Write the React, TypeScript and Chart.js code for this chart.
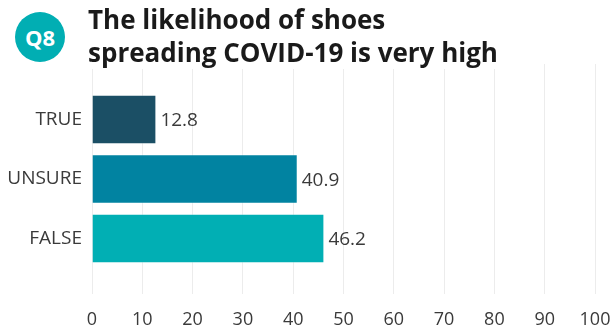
import React, { useEffect, useRef } from "react";
import { Chart, registerables } from "chart.js";

Chart.register(...registerables);

// Survey answers to Q8
const categories = ["TRUE", "UNSURE", "FALSE"];
const percentages = [12.8, 40.9, 46.2];
const barColors = ["#1b4f65", "#0183a1", "#01afb4"];
const xTicks = [0, 10, 20, 30, 40, 50, 60, 70, 80, 90, 100];

const FONT = "'Open Sans', 'Noto Sans', sans-serif";
const TEXT = "#3a3a3a";

// Writes each bar's value just past its end
const valueLabels = {
  id: "valueLabels",
  afterDatasetsDraw(chart: any) {
    const { ctx } = chart;
    const meta = chart.getDatasetMeta(0);
    ctx.save();
    ctx.font = `19px ${FONT}`;
    ctx.fillStyle = TEXT;
    ctx.textAlign = "left";
    ctx.textBaseline = "middle";
    meta.data.forEach((bar: any, i: number) => {
      ctx.fillText(String(percentages[i]), bar.x + 4, bar.y + 1.5);
    });
    ctx.restore();
  },
};

export default function App() {
  const canvasRef = useRef<HTMLCanvasElement | null>(null);

  useEffect(() => {
    document.body.style.margin = "0";
    const canvas = canvasRef.current;
    if (!canvas) return;
    const chart = new Chart(canvas, {
      type: "bar",
      data: {
        datasets: [
          {
            data: percentages.map((v, i) => ({ x: v, y: i })),
            backgroundColor: barColors,
            borderColor: "rgba(255,255,255,0.35)",
            borderWidth: 1,
            categoryPercentage: 1,
            barPercentage: 0.83,
          },
        ],
      },
      options: {
        indexAxis: "y",
        animation: false,
        responsive: false,
        maintainAspectRatio: false,
        layout: { padding: { top: 64, right: 17, left: 0, bottom: 0 } },
        plugins: {
          legend: { display: false },
          tooltip: { enabled: false },
          title: { display: false },
        },
        scales: {
          x: {
            type: "linear",
            min: 0,
            max: 100,
            afterBuildTicks: (axis: any) => {
              axis.ticks = xTicks.map((v) => ({ value: v }));
            },
            afterFit: (axis: any) => {
              axis.height = 39;
              axis.paddingLeft = 0;
              axis.paddingRight = 0;
            },
            grid: { color: "#ececec", lineWidth: 1, drawTicks: false },
            border: { display: false },
            ticks: {
              padding: 15,
              color: TEXT,
              font: { family: FONT, size: 18 },
              maxRotation: 0,
            },
          },
          y: {
            type: "linear",
            reverse: true,
            offset: false,
            grace: 0,
            min: -0.93,
            max: 2.93,
            afterBuildTicks: (axis: any) => {
              axis.ticks = categories.map((_, i) => ({ value: i }));
            },
            afterFit: (axis: any) => {
              axis.width = 92;
              axis.paddingTop = 0;
              axis.paddingBottom = 0;
            },
            grid: { display: false, drawTicks: false, offset: false },
            border: { display: false },
            ticks: {
              padding: 10,
              color: TEXT,
              font: { family: FONT, size: 19 },
              callback: (v: any) => categories[Number(v)] ?? "",
            },
          },
        },
      },
      plugins: [valueLabels],
    });
    return () => chart.destroy();
  }, []);

  return (
    <div
      style={{
        position: "absolute",
        left: 0,
        top: 0,
        width: 612,
        height: 333,
        background: "#ffffff",
        overflow: "hidden",
      }}
    >
      <canvas ref={canvasRef} width={612} height={333} style={{ position: "absolute", left: 0, top: 0 }} />
      <div
        style={{
          position: "absolute",
          left: 15,
          top: 12,
          width: 50,
          height: 50,
          borderRadius: "50%",
          background: "#01aeb3",
          color: "#ffffff",
          fontFamily: FONT,
          fontWeight: 700,
          fontSize: 22,
          lineHeight: "50px",
          textAlign: "center",
        }}
      >
        Q8
      </div>
      <div
        style={{
          position: "absolute",
          left: 88,
          top: 3,
          fontFamily: FONT,
          fontWeight: 700,
          fontSize: 26,
          lineHeight: "33px",
          color: "#1a1a1a",
          background: "#ffffff",
          whiteSpace: "nowrap",
        }}
      >
        The likelihood of shoes
        <br />
        spreading COVID-19 is very high
      </div>
    </div>
  );
}
